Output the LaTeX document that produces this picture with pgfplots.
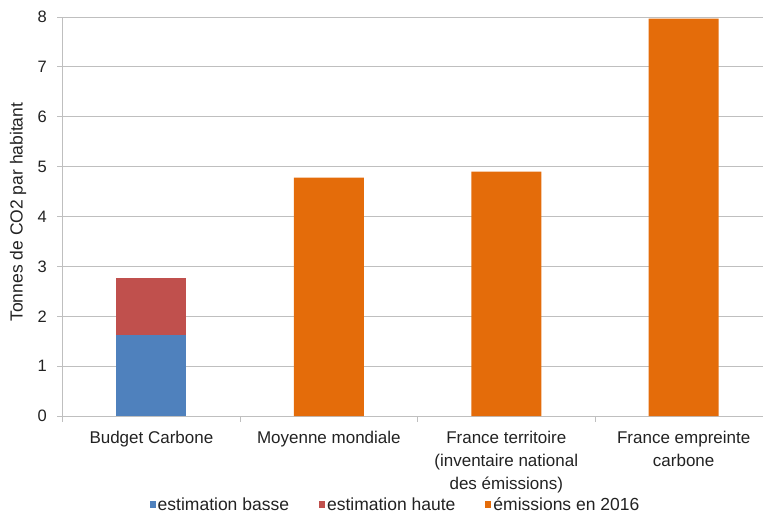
\documentclass[border=0pt]{standalone}
\usepackage{pgfplots}
\pgfplotsset{compat=1.18}
\usepackage{fontspec}
\setmainfont{Liberation Sans}
\definecolor{cblue}{HTML}{4F81BD}
\definecolor{cred}{HTML}{C0504D}
\definecolor{corange}{HTML}{E46C0A}
\definecolor{cgrid}{HTML}{BFBFBF}
\definecolor{ctext}{HTML}{222222}
\begin{document}
\begin{tikzpicture}
\begin{axis}[
  scale only axis,
  width=709.7bp, height=399bp,
  xmin=-0.5, xmax=3.5,
  ymin=0, ymax=8,
  ybar stacked,
  bar width=70bp,
  axis x line*=bottom,
  axis y line*=left,
  axis line style={cgrid, line width=0.8pt},
  xtick={0,1,2,3},
  xticklabels={Budget Carbone, Moyenne mondiale, {France territoire\\(inventaire national\\des émissions)}, {France empreinte\\carbone}},
  xticklabel style={align=center, font=\fontsize{17bp}{23bp}\selectfont, text=ctext, anchor=north, yshift=-6bp},
  major x tick style={draw=none},
  minor xtick={-0.5,0.5,1.5,2.5,3.5},
  minor x tick style={cgrid, line width=0.8pt},
  ytick={0,1,...,8},
  tick align=outside,
  major tick length=5.5bp,
  minor tick length=5.5bp,
  y tick style={cgrid, line width=0.8pt},
  yticklabel style={font=\fontsize{16.5bp}{19bp}\selectfont, text=ctext, xshift=-7bp},
  /pgf/number format/assume math mode=true,
  ymajorgrids,
  grid style={cgrid, line width=0.8pt},
  ylabel={Tonnes de CO2 par habitant},
  ylabel style={font=\fontsize{17.5bp}{20bp}\selectfont, text=ctext, rotate=0, anchor=center, at={(axis description cs:-0.063,0.511)}},
  legend columns=3,
  legend style={draw=none, at={(axis description cs:0.469,-0.223)}, anchor=center, font=\fontsize{17.5bp}{20bp}\selectfont, text=ctext,
    inner xsep=0pt, /tikz/every even column/.append style={column sep=28bp},
    nodes={inner xsep=2bp}},
  legend image code/.code={\fill[#1] (0bp,-3bp) rectangle (6bp,3.5bp);},
  clip=false,
]
\addplot[fill=cblue, draw=none] coordinates {(0,1.62) (1,0) (2,0) (3,0)};
\addlegendentry{estimation basse}
\addplot[fill=cred, draw=none] coordinates {(0,1.14) (1,0) (2,0) (3,0)};
\addlegendentry{estimation haute}
\addplot[fill=corange, draw=none] coordinates {(0,0) (1,4.78) (2,4.90) (3,7.97)};
\addlegendentry{émissions en 2016}
\end{axis}
\pgfresetboundingbox
\path[use as bounding box] (-62.7bp,-98bp) rectangle (700.3bp,416bp);
\end{tikzpicture}
\end{document}
